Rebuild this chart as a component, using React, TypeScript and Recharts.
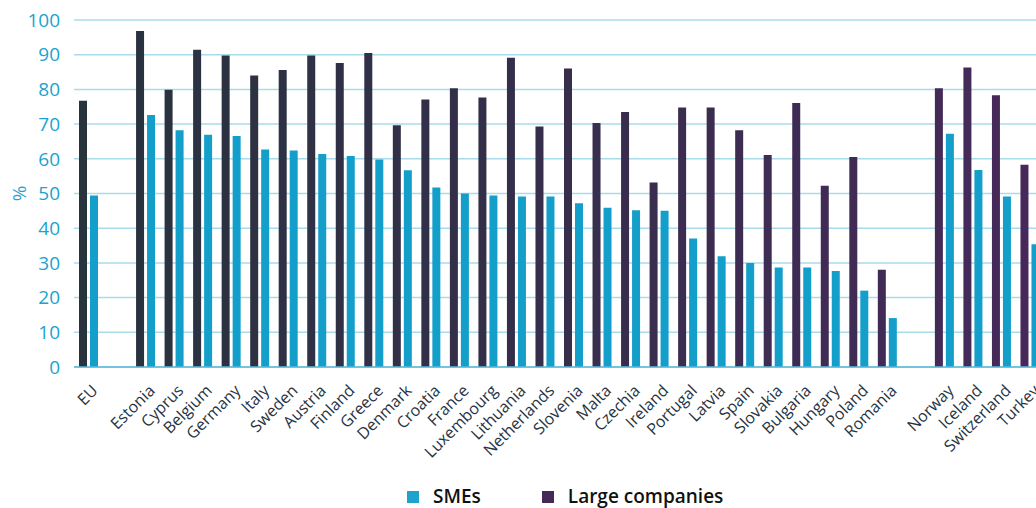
import { BarChart, Bar, XAxis, YAxis, CartesianGrid, Cell } from 'recharts';

const countries = [
  'EU', ' ', 'Estonia', 'Cyprus', 'Belgium', 'Germany', 'Italy', 'Sweden', 'Austria', 'Finland',
  'Greece', 'Denmark', 'Croatia', 'France', 'Luxembourg', 'Lithuania', 'Netherlands', 'Slovenia',
  'Malta', 'Czechia', 'Ireland', 'Portugal', 'Latvia', 'Spain', 'Slovakia', 'Bulgaria', 'Hungary',
  'Poland', 'Romania', '  ', 'Norway', 'Iceland', 'Switzerland', 'Turkey',
];

const smes = [
  49.4, null, 72.6, 68.2, 66.9, 66.6, 62.7, 62.4, 61.4, 60.8,
  59.8, 56.7, 51.7, 50.0, 49.4, 49.1, 49.1, 47.2,
  45.9, 45.2, 45.0, 37.0, 31.9, 30.0, 28.7, 28.7, 27.7,
  22.0, 14.1, null, 67.2, 56.8, 49.1, 35.4,
];

const large = [
  76.7, null, 96.8, 79.9, 91.4, 89.8, 84.0, 85.6, 89.8, 87.6,
  90.5, 69.7, 77.1, 80.3, 77.7, 89.1, 69.3, 86.0,
  70.3, 73.5, 53.2, 74.8, 74.8, 68.2, 61.1, 76.1, 52.2,
  60.5, 28.0, null, 80.3, 86.3, 78.3, 58.3,
];

const yTicks = [0, 10, 20, 30, 40, 50, 60, 70, 80, 90, 100];

const data = countries.map((name, i) => ({ name, smes: smes[i], large: large[i] }));

const BLUE = '#139fc9';
const AXIS_BLUE = '#1ba3cf';
const FONT = "'Open Sans', sans-serif";

// large-company bars drift from slate to purple across the chart
const mix = (t: number) => {
  const a = [0x27, 0x33, 0x3d];
  const b = [0x46, 0x29, 0x5a];
  const c = a.map((v, k) => Math.round(v + (b[k] - v) * t));
  return `rgb(${c[0]},${c[1]},${c[2]})`;
};

const CountryTick = ({ x, y, payload }: any) => (
  <text
    transform={`translate(${x + 1},${y + 7}) rotate(-45)`}
    textAnchor="end"
    dominantBaseline="hanging"
    fill="#27333f"
    fontSize={16}
    fontFamily={FONT}
  >
    {payload.value}
  </text>
);

export default function App() {
  return (
    <div style={{ position: 'fixed', left: 0, top: 0, width: 1036, height: 508, overflow: 'hidden', background: '#fff' }}>
      <BarChart
        width={1050}
        height={508}
        data={data}
        margin={{ top: 20, right: 6, left: 0, bottom: 0 }}
        barSize={8}
        barGap={3}
      >
        <CartesianGrid vertical={false} stroke="#a9dcea" strokeWidth={1.5} />
        <XAxis
          dataKey="name"
          interval={0}
          height={141}
          tickLine={false}
          axisLine={{ stroke: '#5bb9da', strokeWidth: 1.5 }}
          tick={<CountryTick />}
        />
        <YAxis
          width={74}
          domain={[0, 100]}
          ticks={yTicks}
          tickLine={false}
          axisLine={false}
          tick={{ fill: AXIS_BLUE, fontSize: 19, fontFamily: FONT }}
          tickMargin={8}
          label={{
            value: '%',
            angle: -90,
            position: 'insideLeft',
            offset: 19,
            style: { fill: AXIS_BLUE, fontSize: 19, fontFamily: FONT, textAnchor: 'middle' },
          }}
        />
        <Bar dataKey="large" name="Large companies" isAnimationActive={false}>
          {data.map((_, i) => (
            <Cell key={i} fill={mix(i / (data.length - 1))} />
          ))}
        </Bar>
        <Bar dataKey="smes" name="SMEs" fill={BLUE} isAnimationActive={false} />
      </BarChart>
      <div
        style={{
          position: 'absolute',
          top: 486,
          left: 407,
          display: 'flex',
          alignItems: 'center',
          fontFamily: FONT,
          fontSize: 19,
          lineHeight: '21px',
          fontWeight: 600,
          color: '#111',
        }}
      >
        <span style={{ width: 12, height: 12, background: '#1ea3cc', display: 'inline-block', marginRight: 14 }} />
        <span style={{ marginRight: 61 }}>SMEs</span>
        <span style={{ width: 12, height: 12, background: '#452a58', display: 'inline-block', marginRight: 14 }} />
        <span>Large companies</span>
      </div>
    </div>
  );
}
